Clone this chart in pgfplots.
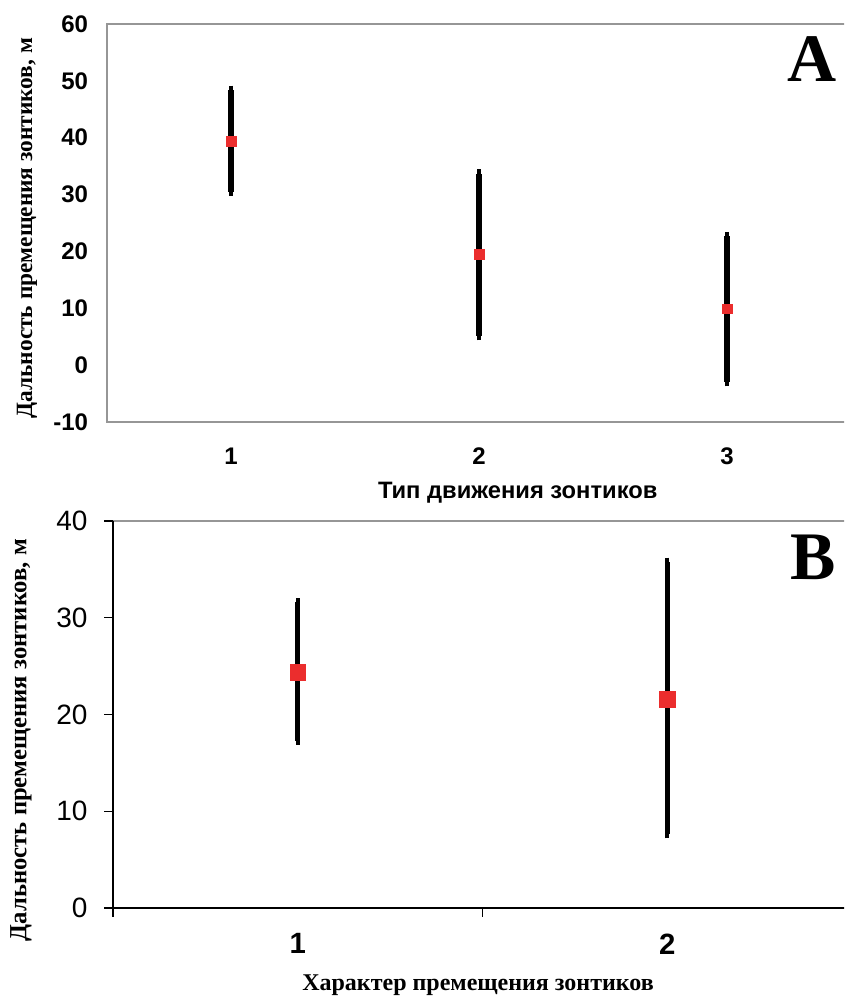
\documentclass[border=0pt]{standalone}
\usepackage{pgfplots}
\pgfplotsset{compat=1.18}
\usepackage{fontspec}
\newfontfamily\arialf{Liberation Sans}
\newfontfamily\timesf{Liberation Serif}
\definecolor{mred}{RGB}{235,45,45}
\definecolor{fgray}{RGB}{150,150,150}
\begin{document}
\begin{tikzpicture}
\useasboundingbox (0,0) rectangle (633pt,748.5pt);
\clip (0,0) rectangle (633pt,748.5pt);
% Panel A
\begin{axis}[
  at={(80.25pt,432pt)}, anchor=south west,
  scale only axis, width=558pt, height=298.5pt,
  xmin=0.5, xmax=3.5, ymin=-10, ymax=60,
  xtick={1,2,3}, ytick={-10,0,10,20,30,40,50,60},
  major tick length=0pt,
  axis line style={draw=none},
  /pgf/number format/assume math mode=true,
  yticklabel style={font=\arialf\bfseries\fontsize{18}{21}\selectfont, inner sep=0pt, xshift=-14pt},
  xticklabel style={font=\arialf\bfseries\fontsize{18}{21}\selectfont, inner sep=0pt, yshift=-19pt},
  xlabel={Тип движения зонтиков},
  xlabel style={at={(axis description cs:0.552,-0.178)}, anchor=center, font=\arialf\bfseries\fontsize{17.8}{21}\selectfont},
  ylabel={Дальность премещения зонтиков, м},
  ylabel style={at={(axis description cs:-0.1075,0.487)}, anchor=center, font=\timesf\bfseries\fontsize{17.5}{20}\selectfont},
  clip=false,
]
\draw[fgray, line width=1.1pt] (rel axis cs:1,1) -- (rel axis cs:0,1) -- (rel axis cs:0,0) -- (rel axis cs:1,0);
\addplot[draw=none, mark=none, error bars/.cd, y dir=both, y explicit,
  error bar style={line width=4pt, black},
  error mark=-, error mark options={black, line width=3pt, mark size=3.2pt}]
  coordinates {(1,39.4) += (0,9.0) -= (0,8.9)
               (2,19.5) += (0,14.2) -= (0,14.4)
               (3,9.9) += (0,12.8) -= (0,12.9)};
\addplot[only marks, mark=square*, mark size=3.6pt, mred, mark options={fill=mred, draw=mred}]
  coordinates {(1,39.4) (2,19.5) (3,9.9)};
\node at (axis description cs:0.948,0.912) {\timesf\bfseries\fontsize{51}{51}\selectfont A};
\end{axis}
% Panel B
\begin{axis}[
  at={(84.75pt,67.5pt)}, anchor=south west,
  scale only axis, width=554.25pt, height=290.25pt,
  xmin=0.5, xmax=2.5, ymin=0, ymax=40,
  xtick={0.5,1.5,2.5}, xticklabels={},
  extra x ticks={1,2}, extra x tick labels={1,2},
  extra x tick style={major tick length=0pt, xticklabel style={font=\arialf\bfseries\fontsize{22}{26}\selectfont, inner sep=0pt, yshift=-19pt}},
  ytick={0,10,20,30,40},
  xtick pos=bottom, ytick pos=left, tick align=outside,
  major tick length=6.5pt,
  tick style={black, line width=0.9pt},
  axis line style={draw=none},
  /pgf/number format/assume math mode=true,
  yticklabel style={font=\arialf\fontsize{21}{25}\selectfont, inner sep=0pt, xshift=-12.5pt},
  xlabel={Характер премещения зонтиков},
  xlabel style={at={(axis description cs:0.494,-0.199)}, anchor=center, font=\timesf\bfseries\fontsize{18}{21}\selectfont},
  ylabel={Дальность премещения зонтиков, м},
  ylabel style={at={(axis description cs:-0.1245,0.434)}, anchor=center, font=\timesf\bfseries\fontsize{18.5}{21}\selectfont},
  clip=false,
]
\draw[fgray, line width=1.1pt] (rel axis cs:0,1) -- (rel axis cs:1,1);
\draw[black, line width=1.1pt] (rel axis cs:0,1) -- (rel axis cs:0,0) -- (rel axis cs:1,0);
\addplot[draw=none, mark=none, error bars/.cd, y dir=both, y explicit,
  error bar style={line width=3.75pt, black},
  error mark=-, error mark options={black, line width=3pt, mark size=3pt}]
  coordinates {(1,24.4) += (0,7.2) -= (0,7.1)
               (2,21.6) += (0,14.2) -= (0,14.0)};
\addplot[only marks, mark=square*, mark size=5.9pt, mred, mark options={fill=mred, draw=mred}]
  coordinates {(1,24.4) (2,21.6)};
\node at (axis description cs:0.947,0.907) {\timesf\bfseries\fontsize{51}{51}\selectfont B};
\end{axis}
\end{tikzpicture}
\end{document}
